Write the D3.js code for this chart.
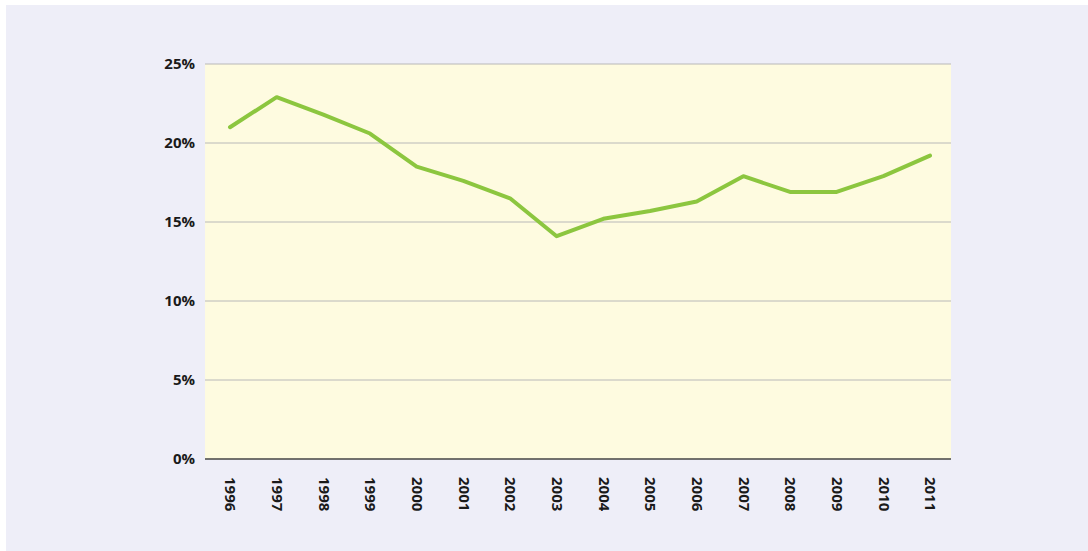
<!DOCTYPE html>
<html>
<head>
<meta charset="utf-8">
<script src="https://cdn.jsdelivr.net/npm/d3@7"></script>
<style>
  body { margin: 0; background: #fff; }
  svg { display: block; font-family: "Open Sans", sans-serif; }
</style>
</head>
<body>
<svg id="chart" width="1088" height="551"></svg>
<script>
const years = ["1996","1997","1998","1999","2000","2001","2002","2003","2004","2005","2006","2007","2008","2009","2010","2011"]
const shares = [21.0, 22.9, 21.8, 20.6, 18.5, 17.6, 16.5, 14.1, 15.2, 15.7, 16.3, 17.9, 16.9, 16.9, 17.9, 19.2]
const yTicks = [0, 5, 10, 15, 20, 25]

const svg = d3.select('#chart')
const plotLeft = 205, plotRight = 951, plotTop = 64, plotBottom = 459

svg.append('rect')
    .attr('x', 6).attr('y', 5)
    .attr('width', 1082).attr('height', 546)
    .attr('fill', '#eeeef8')

svg.append('rect')
    .attr('x', plotLeft).attr('y', plotTop)
    .attr('width', plotRight - plotLeft).attr('height', plotBottom - plotTop)
    .attr('fill', '#fefbe0')

// years sit a little right of the band centres in the original
const x = d3.scalePoint().domain(years).range([plotLeft + 25, plotRight - 21])
const y = d3.scaleLinear().domain([0, 25]).range([plotBottom, plotTop])

// gridlines
svg.append('g')
    .selectAll('line')
    .data(yTicks.filter(d => d > 0))
    .join('line')
    .attr('x1', plotLeft).attr('x2', plotRight)
    .attr('y1', d => y(d)).attr('y2', d => y(d))
    .attr('stroke', '#b8b8b8')
    .attr('stroke-width', 1)

const yAxis = svg.append('g')
    .attr('transform', `translate(${plotLeft},0)`)
    .call(d3.axisLeft(y).tickValues(yTicks).tickFormat(d => d + '%').tickSize(0).tickPadding(10))
yAxis.select('.domain').remove()
yAxis.selectAll('text')
    .attr('font-size', 15).attr('font-weight', 'bold')
    .attr('font-family', '"Open Sans", sans-serif')
    .attr('fill', '#1a1a1a')

const xAxis = svg.append('g')
    .attr('transform', `translate(0,${plotBottom})`)
    .call(d3.axisBottom(x).tickSize(0).tickPadding(0))
xAxis.select('.domain')
    .attr('d', `M${plotLeft},0H${plotRight}`)
    .attr('stroke', '#444').attr('stroke-width', 1.5)
xAxis.selectAll('text')
    .attr('font-size', 15).attr('font-weight', 'bold')
    .attr('font-family', '"Open Sans", sans-serif')
    .attr('fill', '#1a1a1a')
    .attr('transform', 'rotate(90)')
    .attr('text-anchor', 'start')
    .attr('dy', '0.35em')
    .attr('x', 18).attr('y', 0)

const line = d3.line()
    .x((d, i) => x(years[i]))
    .y(d => y(d))

svg.append('path')
    .datum(shares)
    .attr('d', line)
    .attr('fill', 'none')
    .attr('stroke', '#8cc63f')
    .attr('stroke-width', 4)
    .attr('stroke-linecap', 'round')
    .attr('stroke-linejoin', 'round')
</script>
</body>
</html>
